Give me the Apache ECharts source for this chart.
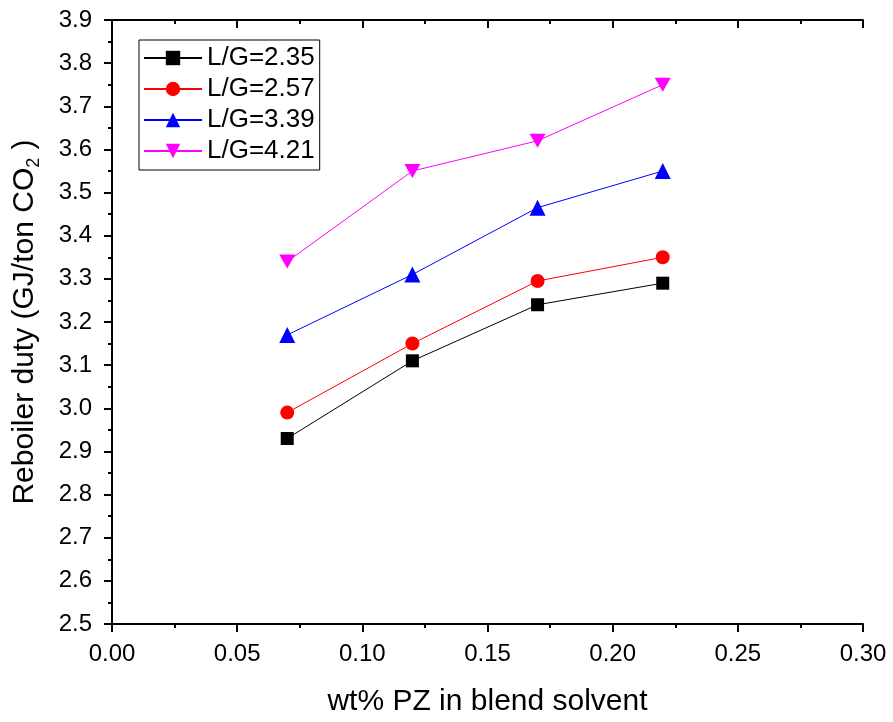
<!DOCTYPE html>
<html><head><meta charset="utf-8">
<script src="https://cdn.jsdelivr.net/npm/echarts@6/dist/echarts.min.js"></script>
<style>html,body{margin:0;padding:0;background:#fff}#c{width:893px;height:722px}</style>
</head><body><div id="c"></div>
<script>
const xValues = [0.07, 0.12, 0.17, 0.22];
const seriesNames = ['L/G=2.35', 'L/G=2.57', 'L/G=3.39', 'L/G=4.21'];
const lg235 = [2.93, 3.11, 3.24, 3.29];
const lg257 = [2.99, 3.15, 3.295, 3.35];
const lg339 = [3.17, 3.31, 3.465, 3.55];
const lg421 = [3.34, 3.55, 3.62, 3.75];
const allValues = [lg235, lg257, lg339, lg421];
const colors = ['#000000', '#ff0000', '#0000ff', '#ff00ff'];
const symbols = ['rect', 'circle', 'triangle', 'path://M0,0 L10,0 L5,9 Z'];
const symbolSizes = [13, 14, 16, [16, 14]];

const font = 'Liberation Sans, Arial, Helvetica, sans-serif';
const chart = echarts.init(document.getElementById('c'));
const axisCommon = {
  axisLine: {show: true, lineStyle: {color: '#000', width: 2}},
  splitLine: {show: false},
  minorSplitLine: {show: false},
};
chart.setOption({
  animation: false,
  grid: {left: 112, top: 20, right: 30, bottom: 96},
  legend: {
    left: 139, top: 40, orient: 'vertical',
    borderColor: '#000', borderWidth: 1, borderRadius: 0,
    padding: [5, 5, 6, 4],
    itemGap: 5, itemWidth: 58, itemHeight: 18,
    textStyle: {fontFamily: font, fontSize: 26, color: '#000', padding: [0, 0, 0, 0]},
    data: seriesNames
  },
  xAxis: [{
    ...axisCommon, type: 'value', min: 0, max: 0.30, interval: 0.05,
    name: 'wt% PZ in blend solvent', nameLocation: 'middle', nameGap: 63,
    nameTextStyle: {fontFamily: font, fontSize: 30, color: '#000'},
    axisTick: {show: true, inside: false, length: 8, lineStyle: {width: 2, color: '#000'}},
    minorTick: {show: true, splitNumber: 2, length: 4, lineStyle: {width: 2, color: '#000'}},
    axisLabel: {fontFamily: font, fontSize: 24, color: '#000', margin: 18, formatter: v => v.toFixed(2)}
  }, {
    ...axisCommon, type: 'value', position: 'top', min: 0, max: 0.30, interval: 0.05,
    axisTick: {show: true, inside: true, length: 8, lineStyle: {width: 2, color: '#000'}},
    minorTick: {show: true, splitNumber: 2, length: 4, lineStyle: {width: 2, color: '#000'}},
    axisLabel: {show: false}
  }],
  yAxis: [{
    ...axisCommon, type: 'value', min: 2.5, max: 3.9, interval: 0.1,
    name: '{a|Reboiler duty (GJ/ton CO}{s|2}{a| )}', nameLocation: 'middle', nameGap: 69, nameRotate: 90,
    nameTextStyle: {rich: {
      a: {fontFamily: font, fontSize: 30, color: '#000'},
      s: {fontFamily: font, fontSize: 18, color: '#000', verticalAlign: 'bottom', padding: [18, 0, 0, 0]}
    }},
    axisTick: {show: true, inside: false, length: 8, lineStyle: {width: 2, color: '#000'}},
    minorTick: {show: true, splitNumber: 2, length: 4, lineStyle: {width: 2, color: '#000'}},
    axisLabel: {fontFamily: font, fontSize: 24, color: '#000', margin: 20, formatter: v => v.toFixed(1)}
  }, {
    ...axisCommon, type: 'value', position: 'right', min: 2.5, max: 3.9, interval: 0.1,
    axisTick: {show: true, inside: true, length: 8, lineStyle: {width: 2, color: '#000'}},
    minorTick: {show: true, splitNumber: 2, length: 4, lineStyle: {width: 2, color: '#000'}},
    axisLabel: {show: false}
  }],
  series: seriesNames.map((n, i) => ({
    name: n, type: 'line', xAxisIndex: 0, yAxisIndex: 0,
    data: xValues.map((x, j) => [x, allValues[i][j]]),
    symbol: symbols[i], symbolSize: symbolSizes[i], showSymbol: true,
    lineStyle: {color: colors[i], width: 1},
    itemStyle: {color: colors[i]},
    z: 2 + i
  }))
});
</script></body></html>
